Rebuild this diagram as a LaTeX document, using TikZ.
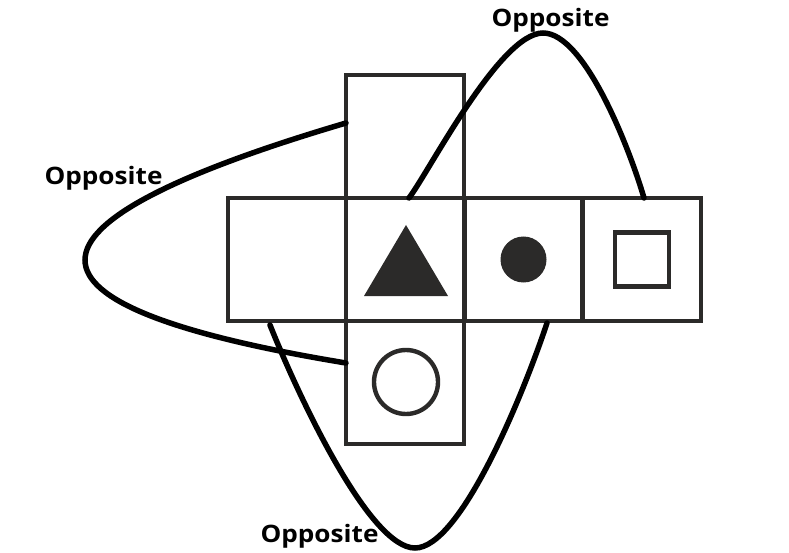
\documentclass[tikz,border=0pt]{standalone}
\usepackage{fontspec}
\setmainfont{Open Sans}
\newfontfamily\lblfont{Open Sans}[FakeStretch=1.09]
\usetikzlibrary{calc}
\definecolor{cellgray}{RGB}{43,42,41}
\tikzset{
  cell/.style={draw=cellgray, line width=4.6pt, minimum width=118pt, minimum height=123pt, inner sep=0pt, outer sep=0pt},
  link/.style={draw=black, line width=5.5pt, line cap=round},
  lbl/.style={font=\lblfont\fontsize{24}{28}\selectfont\bfseries, inner sep=0pt, anchor=base}
}
\begin{document}
\begin{tikzpicture}[x=1pt, y=-1pt]
\useasboundingbox (0,0) rectangle (789,553);
% cells
\node[cell] (top) at (405,136.5) {};
\node[cell] (left) at (287,259.5) {};
\node[cell] (tri) at (405,259.5) {};
\node[cell] (dot) at (523.5,259.5) {};
\node[cell] (sq) at (642,259.5) {};
\node[cell] (bot) at (405,382.5) {};
% symbols
\fill[cellgray] ($(tri)+(1,-34.5)$) -- ($(tri)+(-41,36.5)$) -- ($(tri)+(43,36.5)$) -- cycle;
\node[circle, fill=cellgray, minimum size=46pt, inner sep=0pt] (fdot) at (dot) {};
\node[draw=cellgray, line width=4.4pt, minimum size=54pt, inner sep=0pt] (isq) at (sq) {};
\node[circle, draw=cellgray, line width=4.4pt, minimum size=64pt, inner sep=0pt] (ocirc) at ($(bot)+(1,-0.5)$) {};
% connectors
\draw[link] ($(top.north west)+(0,48)$) .. controls (-2,225.7) and (-2,305.7) .. ($(bot.north west)+(0,42)$);
\coordinate (peak) at (543,33);
\draw[link] ($(tri.north)+(4,0)$) .. controls (430,170) and (500,33) .. (peak)
  .. controls (585,33) and (630,150) .. ($(sq.north)+(2,0)$);
\coordinate (trough) at (415,548);
\draw[link] ($(left.south)+(-17,4)$) .. controls (300,400) and (370,548) .. (trough)
  .. controls (460,548) and (522,398) .. ($(dot.south)+(23.5,2)$);
% labels
\node[lbl] (ltop) at (550.5,27) {Opposite};
\node[lbl] (lleft) at (103.5,185) {Opposite};
\node[lbl] (lbot) at (319.5,542) {Opposite};
\end{tikzpicture}
\end{document}
